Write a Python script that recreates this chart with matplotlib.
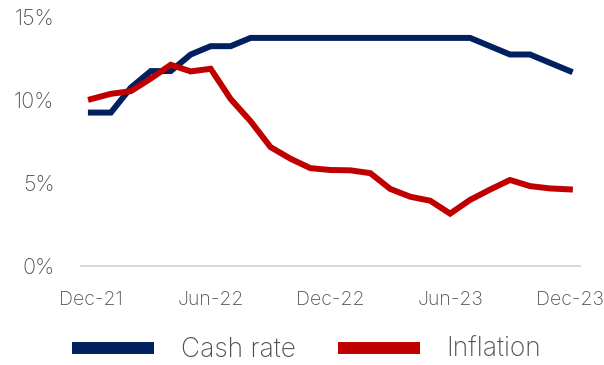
import matplotlib
matplotlib.use("Agg")
import matplotlib.pyplot as plt
from matplotlib.ticker import FuncFormatter

plt.rcParams['font.family'] = ['Inter', 'DejaVu Sans']
plt.rcParams['font.weight'] = 'light'

months = ["Dec-21", "Jan-22", "Feb-22", "Mar-22", "Apr-22", "May-22", "Jun-22",
          "Jul-22", "Aug-22", "Sep-22", "Oct-22", "Nov-22", "Dec-22",
          "Jan-23", "Feb-23", "Mar-23", "Apr-23", "May-23", "Jun-23",
          "Jul-23", "Aug-23", "Sep-23", "Oct-23", "Nov-23", "Dec-23"]
cash_rate = [9.25, 9.25, 10.75, 11.75, 11.75, 12.75, 13.25, 13.25, 13.75, 13.75,
             13.75, 13.75, 13.75, 13.75, 13.75, 13.75, 13.75, 13.75, 13.75, 13.75,
             13.25, 12.75, 12.75, 12.25, 11.75]
inflation = [10.06, 10.38, 10.54, 11.30, 12.13, 11.73, 11.89, 10.07, 8.73, 7.17,
             6.47, 5.90, 5.79, 5.77, 5.60, 4.65, 4.18, 3.94, 3.16, 3.99,
             4.61, 5.19, 4.82, 4.68, 4.62]
tick_labels = ["Dec-21", "Jun-22", "Dec-22", "Jun-23", "Dec-23"]

navy = "#002060"
red = "#C00000"
text_grey = "#505050"

fig = plt.figure(figsize=(6.04, 3.65), dpi=100)
ax = fig.add_axes([0.134, 0.271, 0.826, 0.682])

x = list(range(len(months)))
ax.plot(x, cash_rate, color=navy, lw=4.3, solid_joinstyle='miter', label="Cash rate")
ax.plot(x, inflation, color=red, lw=4.3, solid_joinstyle='miter', label="Inflation")

ax.set_xlim(-0.5, len(months) - 0.5)
ax.set_ylim(0, 15)
ax.set_yticks([0, 5, 10, 15])
ax.yaxis.set_major_formatter(FuncFormatter(lambda v, p: f"{v:.0f}%"))
ax.set_xticks([months.index(m) for m in tick_labels])
ax.set_xticklabels(tick_labels)

for s in ["top", "right", "left"]:
    ax.spines[s].set_visible(False)
ax.spines["bottom"].set_color("#d9d9d9")
ax.spines["bottom"].set_linewidth(1.5)
ax.tick_params(axis='both', length=0, colors=text_grey)
ax.tick_params(axis='y', labelsize=15.5, pad=19)
ax.tick_params(axis='x', labelsize=14, pad=18)

leg = fig.legend(loc="center", bbox_to_anchor=(0.508, 1 - 350 / 365), ncol=2, frameon=False,
                 fontsize=19, handlelength=3.1, handletextpad=1.0, columnspacing=1.62,
                 labelcolor=text_grey, borderpad=0.1)
for line in leg.get_lines():
    line.set_linewidth(8.6)
    line.set_solid_capstyle('butt')

fig.savefig("out.png", dpi=100)
